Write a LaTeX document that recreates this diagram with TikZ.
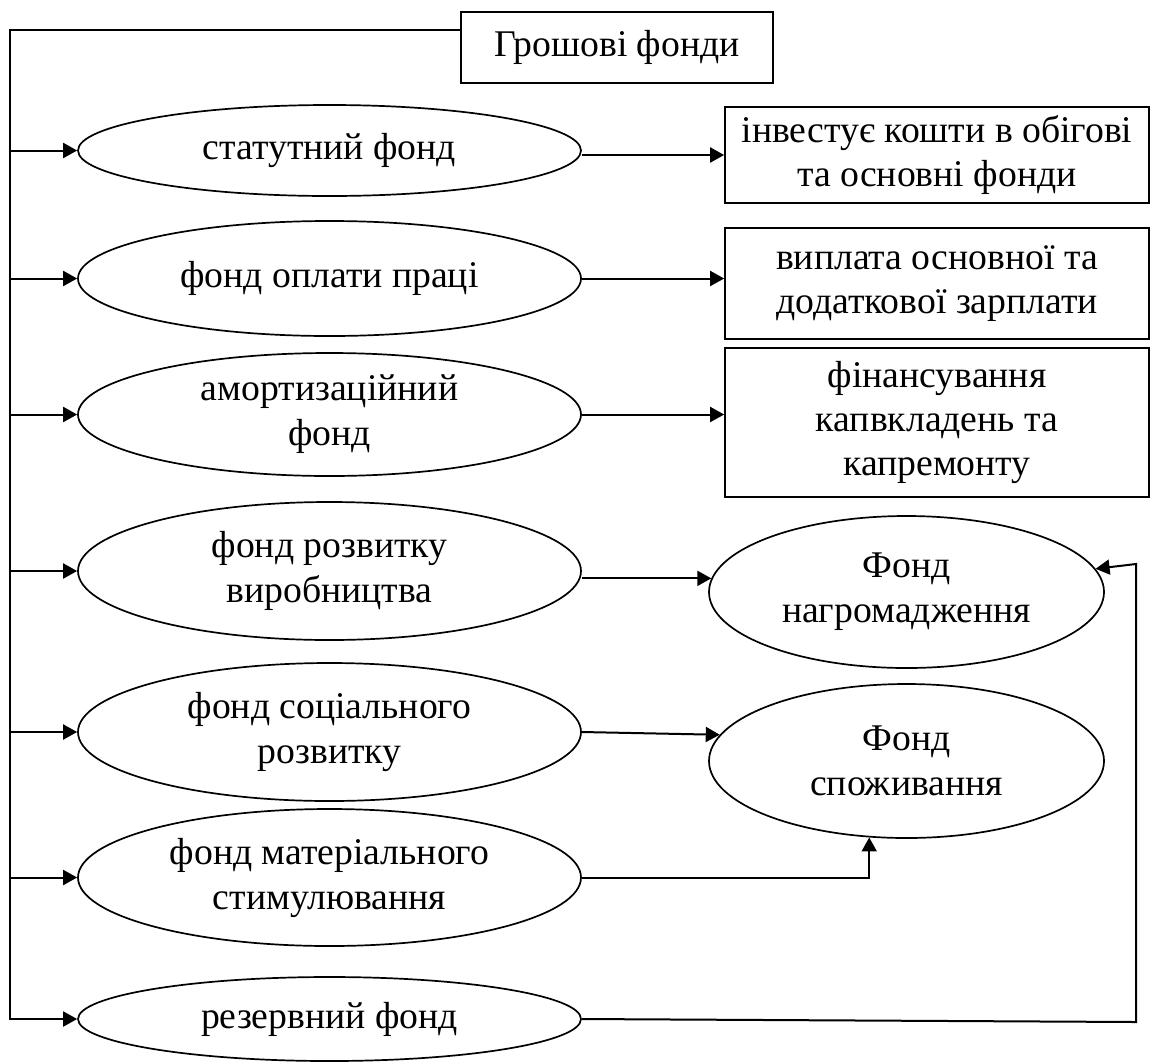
\documentclass[tikz,border=0pt]{standalone}
\usepackage{fontspec}
\setmainfont{Liberation Serif}
\usepackage{tikz}
\usetikzlibrary{shapes,arrows.meta}
\usetikzlibrary{calc}

\begin{document}
\begin{tikzpicture}[x=1pt, y=-1pt,
	fund_node/.style={ellipse,draw,line width=1.7pt,inner sep=0pt,align=center,minimum width=503pt,font=\fontsize{37.7}{45}\selectfont},
	box_node/.style={rectangle,draw,line width=1.7pt,inner sep=0pt,align=center,font=\fontsize{37.7}{44}\selectfont},
	goal_node/.style={ellipse,draw,line width=1.7pt,inner sep=0pt,align=center,minimum width=395pt,font=\fontsize{37.7}{45}\selectfont},
	arr/.style={line width=2pt,-{Triangle[length=14pt,width=15pt]}}]
	
	\useasboundingbox (0,0) rectangle (1158,1061);
	
	\node[box_node, minimum width=312pt, minimum height=71pt] (t) at (617,47.5) {Грошові фонди};
	
	\node[fund_node, minimum height=91pt] (f1) at (329.5,150.5) {статутний фонд};
	\node[fund_node, minimum height=115pt] (f2) at (329.5,278.5) {фонд оплати праці};
	\node[fund_node, minimum height=123pt] (f3) at (329.5,414.5) {амортизаційний\\фонд};
	\node[fund_node, minimum height=138pt] (f4) at (329.5,571) {фонд розвитку\\виробництва};
	\node[fund_node, minimum height=138pt] (f5) at (329.5,732) {фонд соціального\\розвитку};
	\node[fund_node, minimum height=137pt] (f6) at (329.5,877.5) {фонд матеріального\\стимулювання};
	\node[fund_node, minimum height=84pt] (f7) at (329.5,1019) {резервний фонд};
	
	\node[box_node, minimum width=424pt, minimum height=96pt] (b1) at (937,155) {інвестує кошти в обігові\\та основні фонди};
	\node[box_node, minimum width=424pt, minimum height=111pt] (b2) at (937,283.5) {виплата основної та\\додаткової зарплати};
	\node[box_node, minimum width=424pt, minimum height=149pt] (b3) at (937,422.5) {фінансування\\капвкладень та\\капремонту};
	
	\node[goal_node, minimum height=152pt] (n) at (906.5,592) {Фонд\\нагромадження};
	\node[goal_node, minimum height=154pt] (s) at (906.5,761) {Фонд\\споживання};
	
	% left trunk
	\coordinate (top) at (10,30);
	\coordinate (bot) at (10,1020);
	\draw[line width=2pt] (top -| t.west) -- (top) -- (bot);
	\foreach \i in {1,...,7}
		\draw[arr] (top |- f\i.west) -- (f\i.west);
	
	% funds to their uses
	\draw[arr] (f1.east |- b1.west) -- (b1.west);
	\draw[arr] (f2.east) -- (f2.east -| b2.west);
	\draw[arr] (f3.east) -- (f3.east -| b3.west);
	\draw[arr] (f4.east |- n.176) -- (n.176);
	\draw[arr] (f5.east) -- (s.172);
	\draw[arr] (f6.east) -| (s.244);
	
	% reserve back to accumulation
	\coordinate (rb) at (1136,1022);
	\coordinate (rt) at (1136,564);
	\draw[arr] (f7.east) -- (rb) -- (rt) -- (n.7);
\end{tikzpicture}
\end{document}
